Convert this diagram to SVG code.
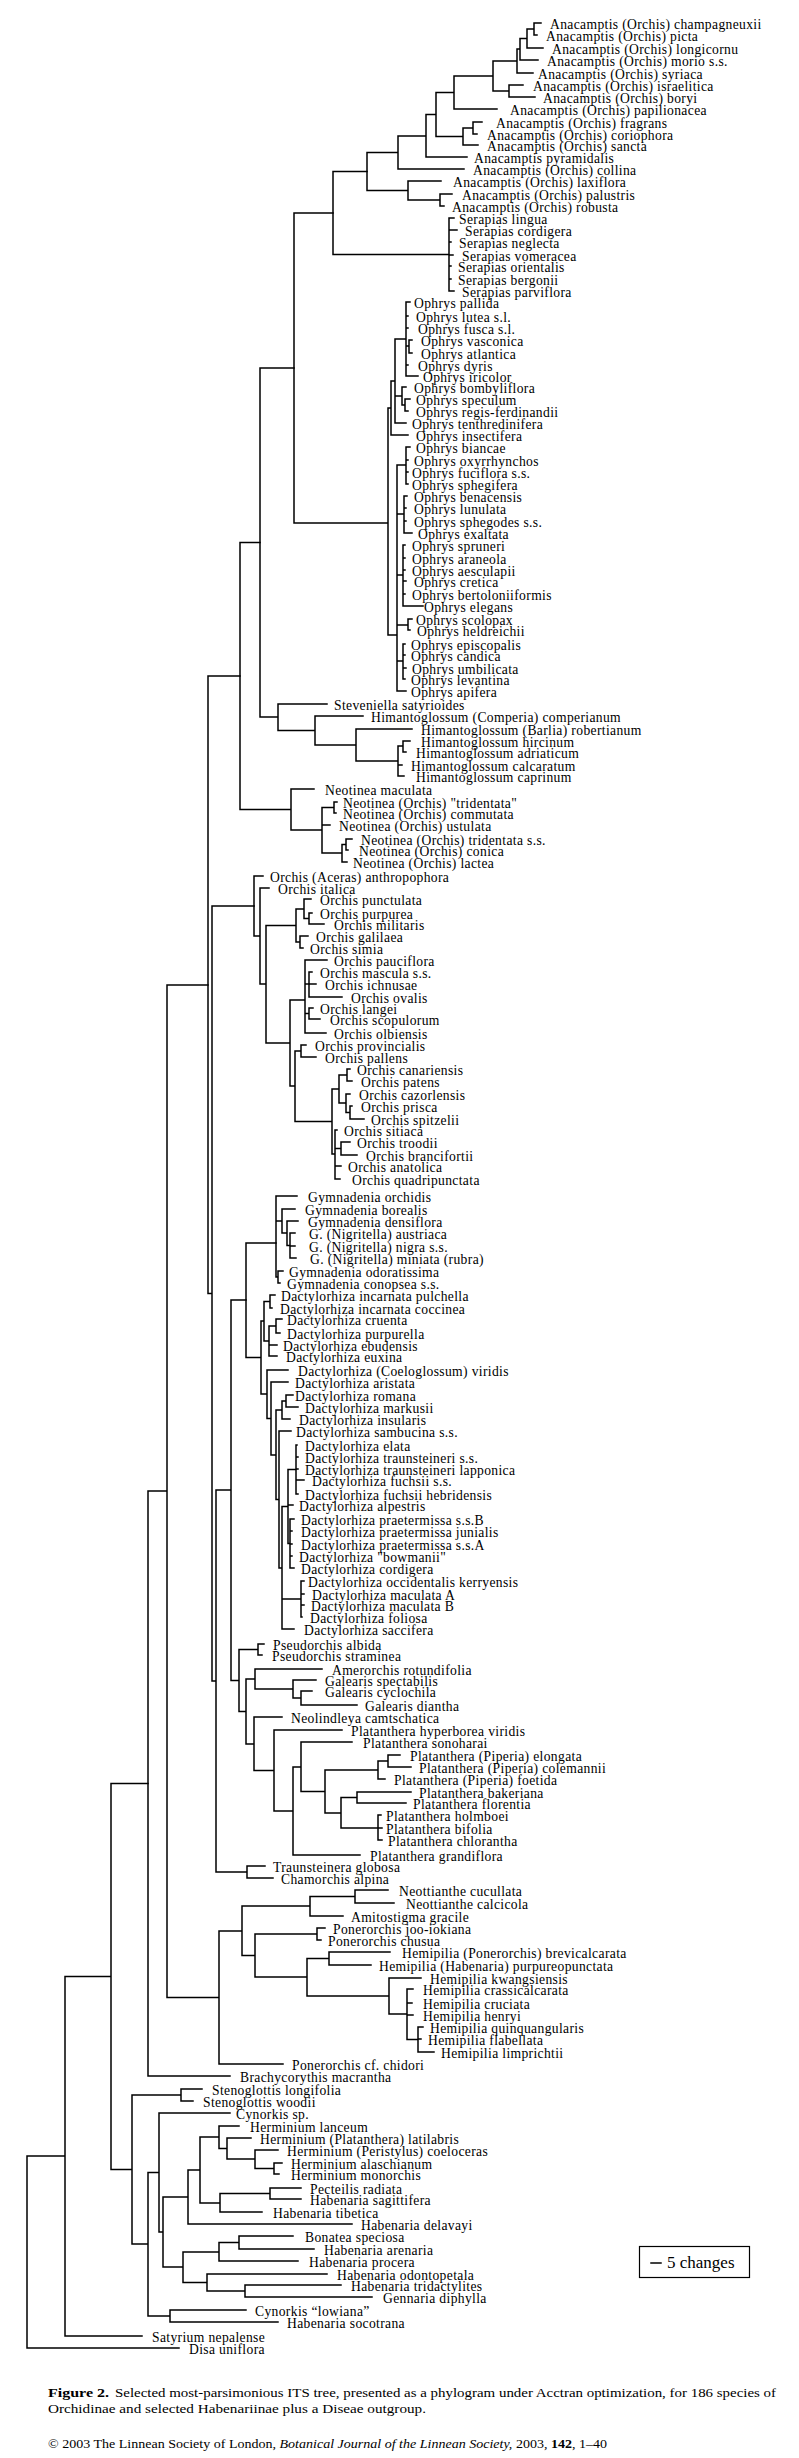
<svg xmlns="http://www.w3.org/2000/svg" width="799" height="2458" viewBox="0 0 799 2458">
<style>
.b{fill:none;stroke:#000;stroke-width:1.5;stroke-linecap:square}
.t{font-family:"Liberation Serif","Times New Roman",serif;font-size:13.6px;letter-spacing:0.35px;fill:#000}
.c{font-family:"Liberation Serif","Times New Roman",serif;font-size:13.5px;fill:#000}
</style>
<rect width="799" height="2458" fill="#fff"/>
<g id="connectors">
<path class="b" d="M534 23H541M534 35H537M534 23V35M527 29H534M527 48H543M527 29V48M520 38.5H527M520 60H538M520 38.5V60M517 49H520M517 73H533M517 49V73M509 85H523M509 97H535M509 85V97M493 61H517M493 91H509M493 61V91M454 76H493M454 109H497M454 76V109M473 122H482M473 134H477M473 122V134M463 128H473M463 145H478M463 128V145M436 92.5H454M436 136.5H463M436 92.5V136.5M426 114.5H436M426 157H467M426 114.5V157M398 136H426M398 169H464M398 136V169M440 194H452M440 206H444M440 194V206M408 181H441M408 200H440M408 181V200M367 152.5H398M367 190.5H408M367 152.5V190.5"/>
<path class="b" d="M449 218V291M449 218H454M449 230H457M449 242H451M449 255H453M449 266H451M449 279H451M449 291H454M333 171.5H367M333 254.5H449M333 171.5V254.5"/>
<path class="b" d="M406 302V376M406 302H410M406 316H408M406 328H408M406 346H409M409 340V353M409 340H412M409 353H412M406 365H408M406 376H418M402 387V405M402 387H406M402 405H405M405 399V411M405 399H410M405 411H408M395 339V423M395 339H406M395 396H402M395 423H406M391 381V435M391 381H395M391 435H408M406 447V484M406 447H410M406 460H408M406 472H408M406 484H408M397 465H406M404 496V533M404 496H407M404 508H406M404 521H406M404 533H412M397 514H404M403 545V606M403 545H405M403 558H405M403 570H405M403 581H406M403 594H405M403 606H423M397 575H403M408 619V630M408 619H412M408 630H410M397 625H408M403 644V679M403 644H405M403 655H405M403 668H406M403 679H405M397 661H403M397 691H406M397 465V691M388 408V635M388 408H391M388 635H397M294 213H333M294 523H388M294 213V523"/>
<path class="b" d="M403 741V752M403 741H410M403 752H406M398 746V776M398 746H403M398 765H402M398 776H404M356 729V761M356 729H412M356 761H398M315 716V745M315 716H363M315 745H356M278 704V730.5M278 704H327M278 730.5H315M260 368V717M260 717H278M260 368H294"/>
<path class="b" d="M334 802V813M334 802H337M334 813H336M346 839V850M346 839H352M346 850H348M342 844.5V862M342 844.5H346M342 862H347M322 807.5V853M322 807.5H334M322 825H330M322 853H342M291 789V830M291 789H314M291 830H322M240 542.5V809.5M240 542.5H260M240 809.5H291"/>
<path class="b" d="M309 913V924M309 913H312M309 924H324M304 899V918.5M304 899H311M304 918.5H309M300 936V948M300 936H308M300 948H303M296 909V942M296 909H304M296 942H300M309 972V997M309 972H312M309 984H316M309 997H342M309 1008V1019M309 1008H313M309 1019H320M305 960V1033M305 960H327M305 984H309M305 1013.5H309M305 1033H326M301 1045V1057M301 1045H306M301 1057H316M347 1069V1081M347 1069H350M347 1081H352M350 1106V1119M350 1106H352M350 1119H364M346 1094V1112.5M346 1094H350M346 1112.5H350M339 1075V1103M339 1075H347M339 1103H346M341 1142V1155M341 1142H350M341 1155H357M335 1130V1179M335 1130H337M335 1148.5H341M335 1166H341M335 1179H340M332 1089V1154M332 1089H339M332 1154H335M295 1051V1121.5M295 1051H301M295 1121.5H332M290 1000V1086M290 1000H305M290 1086H295M266 925.5V1043M266 925.5H296M266 1043H290M260 888V984M260 888H269M260 984H266M254 876V936M254 876H263M254 936H260"/>
<path class="b" d="M290 1233V1258M290 1233H295M290 1246H295M290 1258H296M287 1221V1245.5M287 1221H298M287 1245.5H290M282 1209V1233M282 1209H295M282 1233H287M278 1271V1283M278 1271H283M278 1283H280M276 1196V1277M276 1196H297M276 1221H282M276 1277H278"/>
<path class="b" d="M270 1295V1308M270 1295H275M270 1308H272M276 1319V1333M276 1319H282M276 1333H280M269 1326V1356M269 1326H276M269 1345H277M269 1356H277M264 1301.5V1341M264 1301.5H270M264 1341H269M286 1395V1407M286 1395H293M286 1407H298M282 1401V1419M282 1401H286M282 1419H290M296 1445V1494M296 1445H297M296 1457H298M296 1469H298M296 1480H304M296 1494H298M290 1519V1568M290 1519H294M290 1531H292M290 1544H292M290 1556H292M290 1568H294M288 1469.5V1543.5M288 1469.5H296M288 1505H293M288 1543.5H290M301 1581V1617M301 1581H304M301 1594H304M301 1605H304M301 1617H302M282 1506.5V1629M282 1506.5H288M282 1599H301M282 1629H294M279 1431V1568M279 1431H291M279 1568H282M276 1410V1499.5M276 1410H282M276 1499.5H279M271 1382V1455M271 1382H288M271 1455H276M267 1370V1418.5M267 1370H288M267 1418.5H271M261 1321V1394M261 1321H264M261 1394H267M246 1243V1357.5M246 1243H276M246 1357.5H261"/>
<path class="b" d="M258 1644V1655M258 1644H264M258 1655H262M301 1691V1705M301 1691H312M301 1705H357M293 1680V1698M293 1680H316M293 1698H301M255 1669V1689M255 1669H322M255 1689H293M388 1755V1767M388 1755H400M388 1767H411M378 1761V1779M378 1761H388M378 1779H385M357 1792V1803M357 1792H411M357 1803H406M378 1815V1840M378 1815H381M378 1828H382M378 1840H382M341 1797.5V1828M341 1797.5H357M341 1828H378M325 1770V1813M325 1770H378M325 1813H341M301 1742V1791.5M301 1742H352M301 1791.5H325M293 1767V1855M293 1767H301M293 1855H360M274 1730V1811M274 1730H342M274 1811H293M254 1717V1770.5M254 1717H282M254 1770.5H274M246 1679V1744M246 1679H255M246 1744H254M239 1649.5V1711.5M239 1649.5H258M239 1711.5H246M231 1300V1680.5M231 1300H246M231 1680.5H239M247 1866V1878M247 1866H265M247 1878H273M216 1490V1872M216 1490H231M216 1872H247M212 906V1681M212 906H254M212 1681H216M208 676V1293.5M208 676H240M208 1293.5H212"/>
<path class="b" d="M355 1890V1903M355 1890H388M355 1903H394M310 1896.5V1916M310 1896.5H355M310 1916H343M317 1928V1940M317 1928H325M317 1940H321M329 1952V1965M329 1952H390M329 1965H371M418 2027V2052M418 2027H423M418 2039H421M418 2052H434M407 1989V2039.5M407 1989H413M407 2003H412M407 2015H413M407 2039.5H418M389 1978V2014M389 1978H421M389 2014H407M307 1958.5V1996M307 1958.5H329M307 1996H389M255 1934V1977M255 1934H317M255 1977H307M242 1906V1955.5M242 1906H310M242 1955.5H255M219 1931V2064M219 1931H242M219 2064H283M167 985V1997.5M167 985H208M167 1997.5H219M148 1491V2076M148 1491H167M148 2076H230"/>
<path class="b" d="M181 2089V2101M181 2089H202M181 2101H193M274 2163V2174M274 2163H282M274 2174H279M255 2150V2168.5M255 2150H278M255 2168.5H274M227 2138V2159M227 2138H251M227 2159H255M219 2126V2148.5M219 2126H239M219 2148.5H227M270 2188V2199M270 2188H301M270 2199H301M220 2193.5V2212M220 2193.5H270M220 2212H262M200 2137V2203M200 2137H219M200 2203H220M188 2170V2224M188 2170H200M188 2224H352M239 2236V2249M239 2236H293M239 2249H314M219 2242.5V2261M219 2242.5H239M219 2261H298M245 2285V2297M245 2285H341M245 2297H372M207 2274V2291M207 2274H327M207 2291H245M183 2252V2282.5M183 2252H219M183 2282.5H207M163 2197V2267M163 2197H188M163 2267H183M159 2113V2232M159 2113H230M159 2232H163M170 2310V2322M170 2310H246M170 2322H278M148 2172.5V2316M148 2172.5H159M148 2316H170M132 2095V2244M132 2095H181M132 2244H148M111 1783.5V2169.5M111 1783.5H148M111 2169.5H132M65 1976.5V2336M65 1976.5H111M65 2336H142M27 2156V2348M27 2156H65M27 2348H179"/>
</g>
<g id="taxa" class="t">
<g id="t001"><text x="550" y="29">Anacamptis (Orchis) champagneuxii</text></g>
<g id="t002"><text x="546" y="41">Anacamptis (Orchis) picta</text></g>
<g id="t003"><text x="552" y="54">Anacamptis (Orchis) longicornu</text></g>
<g id="t004"><text x="547" y="66">Anacamptis (Orchis) morio s.s.</text></g>
<g id="t005"><text x="538" y="79">Anacamptis (Orchis) syriaca</text></g>
<g id="t006"><text x="533" y="91">Anacamptis (Orchis) israelitica</text></g>
<g id="t007"><text x="543" y="103">Anacamptis (Orchis) boryi</text></g>
<g id="t008"><text x="510" y="115">Anacamptis (Orchis) papilionacea</text></g>
<g id="t009"><text x="496" y="128">Anacamptis (Orchis) fragrans</text></g>
<g id="t010"><text x="487" y="140">Anacamptis (Orchis) coriophora</text></g>
<g id="t011"><text x="487" y="151">Anacamptis (Orchis) sancta</text></g>
<g id="t012"><text x="474" y="163">Anacamptis pyramidalis</text></g>
<g id="t013"><text x="473" y="175">Anacamptis (Orchis) collina</text></g>
<g id="t014"><text x="453" y="187">Anacamptis (Orchis) laxiflora</text></g>
<g id="t015"><text x="462" y="200">Anacamptis (Orchis) palustris</text></g>
<g id="t016"><text x="452" y="212">Anacamptis (Orchis) robusta</text></g>
<g id="t017"><text x="459" y="224">Serapias lingua</text></g>
<g id="t018"><text x="465" y="236">Serapias cordigera</text></g>
<g id="t019"><text x="459" y="248">Serapias neglecta</text></g>
<g id="t020"><text x="462" y="261">Serapias vomeracea</text></g>
<g id="t021"><text x="458" y="272">Serapias orientalis</text></g>
<g id="t022"><text x="458" y="285">Serapias bergonii</text></g>
<g id="t023"><text x="462" y="297">Serapias parviflora</text></g>
<g id="t024"><text x="414" y="308">Ophrys pallida</text></g>
<g id="t025"><text x="416" y="322">Ophrys lutea s.l.</text></g>
<g id="t026"><text x="418" y="334">Ophrys fusca s.l.</text></g>
<g id="t027"><text x="421" y="346">Ophrys vasconica</text></g>
<g id="t028"><text x="421" y="359">Ophrys atlantica</text></g>
<g id="t029"><text x="418" y="371">Ophrys dyris</text></g>
<g id="t030"><text x="423" y="382">Ophrys iricolor</text></g>
<g id="t031"><text x="414" y="393">Ophrys bombyliflora</text></g>
<g id="t032"><text x="416" y="405">Ophrys speculum</text></g>
<g id="t033"><text x="416" y="417">Ophrys regis-ferdinandii</text></g>
<g id="t034"><text x="412" y="429">Ophrys tenthredinifera</text></g>
<g id="t035"><text x="416" y="441">Ophrys insectifera</text></g>
<g id="t036"><text x="416" y="453">Ophrys biancae</text></g>
<g id="t037"><text x="414" y="466">Ophrys oxyrrhynchos</text></g>
<g id="t038"><text x="412" y="478">Ophrys fuciflora s.s.</text></g>
<g id="t039"><text x="412" y="490">Ophrys sphegifera</text></g>
<g id="t040"><text x="414" y="502">Ophrys benacensis</text></g>
<g id="t041"><text x="414" y="514">Ophrys lunulata</text></g>
<g id="t042"><text x="414" y="527">Ophrys sphegodes s.s.</text></g>
<g id="t043"><text x="418" y="539">Ophrys exaltata</text></g>
<g id="t044"><text x="412" y="551">Ophrys spruneri</text></g>
<g id="t045"><text x="412" y="564">Ophrys araneola</text></g>
<g id="t046"><text x="412" y="576">Ophrys aesculapii</text></g>
<g id="t047"><text x="414" y="587">Ophrys cretica</text></g>
<g id="t048"><text x="412" y="600">Ophrys bertoloniiformis</text></g>
<g id="t049"><text x="424" y="612">Ophrys elegans</text></g>
<g id="t050"><text x="416" y="625">Ophrys scolopax</text></g>
<g id="t051"><text x="417" y="636">Ophrys heldreichii</text></g>
<g id="t052"><text x="411" y="650">Ophrys episcopalis</text></g>
<g id="t053"><text x="411" y="661">Ophrys candica</text></g>
<g id="t054"><text x="412" y="674">Ophrys umbilicata</text></g>
<g id="t055"><text x="411" y="685">Ophrys levantina</text></g>
<g id="t056"><text x="411" y="697">Ophrys apifera</text></g>
<g id="t057"><text x="334" y="710">Steveniella satyrioides</text></g>
<g id="t058"><text x="371" y="722">Himantoglossum (Comperia) comperianum</text></g>
<g id="t059"><text x="421" y="735">Himantoglossum (Barlia) robertianum</text></g>
<g id="t060"><text x="421" y="747">Himantoglossum hircinum</text></g>
<g id="t061"><text x="416" y="758">Himantoglossum adriaticum</text></g>
<g id="t062"><text x="411" y="771">Himantoglossum calcaratum</text></g>
<g id="t063"><text x="416" y="782">Himantoglossum caprinum</text></g>
<g id="t064"><text x="325" y="795">Neotinea maculata</text></g>
<g id="t065"><text x="343" y="808">Neotinea (Orchis) "tridentata"</text></g>
<g id="t066"><text x="343" y="819">Neotinea (Orchis) commutata</text></g>
<g id="t067"><text x="339" y="831">Neotinea (Orchis) ustulata</text></g>
<g id="t068"><text x="361" y="845">Neotinea (Orchis) tridentata s.s.</text></g>
<g id="t069"><text x="359" y="856">Neotinea (Orchis) conica</text></g>
<g id="t070"><text x="353" y="868">Neotinea (Orchis) lactea</text></g>
<g id="t071"><text x="270" y="882">Orchis (Aceras) anthropophora</text></g>
<g id="t072"><text x="278" y="894">Orchis italica</text></g>
<g id="t073"><text x="320" y="905">Orchis punctulata</text></g>
<g id="t074"><text x="320" y="919">Orchis purpurea</text></g>
<g id="t075"><text x="334" y="930">Orchis militaris</text></g>
<g id="t076"><text x="316" y="942">Orchis galilaea</text></g>
<g id="t077"><text x="310" y="954">Orchis simia</text></g>
<g id="t078"><text x="334" y="966">Orchis pauciflora</text></g>
<g id="t079"><text x="320" y="978">Orchis mascula s.s.</text></g>
<g id="t080"><text x="325" y="990">Orchis ichnusae</text></g>
<g id="t081"><text x="351" y="1003">Orchis ovalis</text></g>
<g id="t082"><text x="320" y="1014">Orchis langei</text></g>
<g id="t083"><text x="330" y="1025">Orchis scopulorum</text></g>
<g id="t084"><text x="334" y="1039">Orchis olbiensis</text></g>
<g id="t085"><text x="315" y="1051">Orchis provincialis</text></g>
<g id="t086"><text x="325" y="1063">Orchis pallens</text></g>
<g id="t087"><text x="357" y="1075">Orchis canariensis</text></g>
<g id="t088"><text x="361" y="1087">Orchis patens</text></g>
<g id="t089"><text x="359" y="1100">Orchis cazorlensis</text></g>
<g id="t090"><text x="361" y="1112">Orchis prisca</text></g>
<g id="t091"><text x="371" y="1125">Orchis spitzelii</text></g>
<g id="t092"><text x="344" y="1136">Orchis sitiaca</text></g>
<g id="t093"><text x="357" y="1148">Orchis troodii</text></g>
<g id="t094"><text x="366" y="1161">Orchis brancifortii</text></g>
<g id="t095"><text x="348" y="1172">Orchis anatolica</text></g>
<g id="t096"><text x="352" y="1185">Orchis quadripunctata</text></g>
<g id="t097"><text x="308" y="1202">Gymnadenia orchidis</text></g>
<g id="t098"><text x="305" y="1215">Gymnadenia borealis</text></g>
<g id="t099"><text x="308" y="1227">Gymnadenia densiflora</text></g>
<g id="t100"><text x="309" y="1239">G. (Nigritella) austriaca</text></g>
<g id="t101"><text x="309" y="1252">G. (Nigritella) nigra s.s.</text></g>
<g id="t102"><text x="310" y="1264">G. (Nigritella) miniata (rubra)</text></g>
<g id="t103"><text x="289" y="1277">Gymnadenia odoratissima</text></g>
<g id="t104"><text x="287" y="1289">Gymnadenia conopsea s.s.</text></g>
<g id="t105"><text x="281" y="1301">Dactylorhiza incarnata pulchella</text></g>
<g id="t106"><text x="280" y="1314">Dactylorhiza incarnata coccinea</text></g>
<g id="t107"><text x="287" y="1325">Dactylorhiza cruenta</text></g>
<g id="t108"><text x="287" y="1339">Dactylorhiza purpurella</text></g>
<g id="t109"><text x="283" y="1351">Dactylorhiza ebudensis</text></g>
<g id="t110"><text x="286" y="1362">Dactylorhiza euxina</text></g>
<g id="t111"><text x="298" y="1376">Dactylorhiza (Coeloglossum) viridis</text></g>
<g id="t112"><text x="295" y="1388">Dactylorhiza aristata</text></g>
<g id="t113"><text x="295" y="1401">Dactylorhiza romana</text></g>
<g id="t114"><text x="305" y="1413">Dactylorhiza markusii</text></g>
<g id="t115"><text x="299" y="1425">Dactylorhiza insularis</text></g>
<g id="t116"><text x="296" y="1437">Dactylorhiza sambucina s.s.</text></g>
<g id="t117"><text x="305" y="1451">Dactylorhiza elata</text></g>
<g id="t118"><text x="305" y="1463">Dactylorhiza traunsteineri s.s.</text></g>
<g id="t119"><text x="305" y="1475">Dactylorhiza traunsteineri lapponica</text></g>
<g id="t120"><text x="312" y="1486">Dactylorhiza fuchsii s.s.</text></g>
<g id="t121"><text x="305" y="1500">Dactylorhiza fuchsii hebridensis</text></g>
<g id="t122"><text x="299" y="1511">Dactylorhiza alpestris</text></g>
<g id="t123"><text x="301" y="1525">Dactylorhiza praetermissa s.s.B</text></g>
<g id="t124"><text x="301" y="1537">Dactylorhiza praetermissa junialis</text></g>
<g id="t125"><text x="301" y="1550">Dactylorhiza praetermissa s.s.A</text></g>
<g id="t126"><text x="299" y="1562">Dactylorhiza "bowmanii"</text></g>
<g id="t127"><text x="301" y="1574">Dactylorhiza cordigera</text></g>
<g id="t128"><text x="308" y="1587">Dactylorhiza occidentalis kerryensis</text></g>
<g id="t129"><text x="312" y="1600">Dactylorhiza maculata A</text></g>
<g id="t130"><text x="311" y="1611">Dactylorhiza maculata B</text></g>
<g id="t131"><text x="310" y="1623">Dactylorhiza foliosa</text></g>
<g id="t132"><text x="304" y="1635">Dactylorhiza saccifera</text></g>
<g id="t133"><text x="273" y="1650">Pseudorchis albida</text></g>
<g id="t134"><text x="272" y="1661">Pseudorchis straminea</text></g>
<g id="t135"><text x="332" y="1675">Amerorchis rotundifolia</text></g>
<g id="t136"><text x="325" y="1686">Galearis spectabilis</text></g>
<g id="t137"><text x="325" y="1697">Galearis cyclochila</text></g>
<g id="t138"><text x="365" y="1711">Galearis diantha</text></g>
<g id="t139"><text x="291" y="1723">Neolindleya camtschatica</text></g>
<g id="t140"><text x="351" y="1736">Platanthera hyperborea viridis</text></g>
<g id="t141"><text x="363" y="1748">Platanthera sonoharai</text></g>
<g id="t142"><text x="410" y="1761">Platanthera (Piperia) elongata</text></g>
<g id="t143"><text x="419" y="1773">Platanthera (Piperia) colemannii</text></g>
<g id="t144"><text x="394" y="1785">Platanthera (Piperia) foetida</text></g>
<g id="t145"><text x="419" y="1798">Platanthera bakeriana</text></g>
<g id="t146"><text x="413" y="1809">Platanthera florentia</text></g>
<g id="t147"><text x="386" y="1821">Platanthera holmboei</text></g>
<g id="t148"><text x="386" y="1834">Platanthera bifolia</text></g>
<g id="t149"><text x="388" y="1846">Platanthera chlorantha</text></g>
<g id="t150"><text x="370" y="1861">Platanthera grandiflora</text></g>
<g id="t151"><text x="273" y="1872">Traunsteinera globosa</text></g>
<g id="t152"><text x="281" y="1884">Chamorchis alpina</text></g>
<g id="t153"><text x="399" y="1896">Neottianthe cucullata</text></g>
<g id="t154"><text x="406" y="1909">Neottianthe calcicola</text></g>
<g id="t155"><text x="351" y="1922">Amitostigma gracile</text></g>
<g id="t156"><text x="333" y="1934">Ponerorchis joo-iokiana</text></g>
<g id="t157"><text x="328" y="1946">Ponerorchis chusua</text></g>
<g id="t158"><text x="402" y="1958">Hemipilia (Ponerorchis) brevicalcarata</text></g>
<g id="t159"><text x="379" y="1971">Hemipilia (Habenaria) purpureopunctata</text></g>
<g id="t160"><text x="430" y="1984">Hemipilia kwangsiensis</text></g>
<g id="t161"><text x="423" y="1995">Hemipilia crassicalcarata</text></g>
<g id="t162"><text x="423" y="2009">Hemipilia cruciata</text></g>
<g id="t163"><text x="423" y="2021">Hemipilia henryi</text></g>
<g id="t164"><text x="430" y="2033">Hemipilia quinquangularis</text></g>
<g id="t165"><text x="428" y="2045">Hemipilia flabellata</text></g>
<g id="t166"><text x="441" y="2058">Hemipilia limprichtii</text></g>
<g id="t167"><text x="292" y="2070">Ponerorchis cf. chidori</text></g>
<g id="t168"><text x="240" y="2082">Brachycorythis macrantha</text></g>
<g id="t169"><text x="212" y="2095">Stenoglottis longifolia</text></g>
<g id="t170"><text x="203" y="2107">Stenoglottis woodii</text></g>
<g id="t171"><text x="236" y="2119">Cynorkis sp.</text></g>
<g id="t172"><text x="250" y="2132">Herminium lanceum</text></g>
<g id="t173"><text x="260" y="2144">Herminium (Platanthera) latilabris</text></g>
<g id="t174"><text x="287" y="2156">Herminium (Peristylus) coeloceras</text></g>
<g id="t175"><text x="291" y="2169">Herminium alaschianum</text></g>
<g id="t176"><text x="291" y="2180">Herminium monorchis</text></g>
<g id="t177"><text x="310" y="2194">Pecteilis radiata</text></g>
<g id="t178"><text x="310" y="2205">Habenaria sagittifera</text></g>
<g id="t179"><text x="273" y="2218">Habenaria tibetica</text></g>
<g id="t180"><text x="361" y="2230">Habenaria delavayi</text></g>
<g id="t181"><text x="305" y="2242">Bonatea speciosa</text></g>
<g id="t182"><text x="324" y="2255">Habenaria arenaria</text></g>
<g id="t183"><text x="309" y="2267">Habenaria procera</text></g>
<g id="t184"><text x="337" y="2280">Habenaria odontopetala</text></g>
<g id="t185"><text x="351" y="2291">Habenaria tridactylites</text></g>
<g id="t186"><text x="383" y="2303">Gennaria diphylla</text></g>
<g id="t187"><text x="255" y="2316">Cynorkis “lowiana”</text></g>
<g id="t188"><text x="287" y="2328">Habenaria socotrana</text></g>
<g id="t189"><text x="152" y="2342">Satyrium nepalense</text></g>
<g id="t190"><text x="189" y="2354">Disa uniflora</text></g>
</g>
<g id="scale">
<rect x="639.5" y="2246.5" width="110" height="31" fill="none" stroke="#000" stroke-width="1.2"/>
<path class="b" d="M651 2263H661"/>
<text x="667" y="2268" font-family="Liberation Serif, serif" font-size="17">5 changes</text>
</g>
<g id="caption" class="c">
<text x="48" y="2397" font-weight="bold" textLength="61" lengthAdjust="spacingAndGlyphs">Figure 2.</text>
<text x="115" y="2397" textLength="661" lengthAdjust="spacingAndGlyphs">Selected most-parsimonious ITS tree, presented as a phylogram under Acctran optimization, for 186 species of</text>
<text x="48" y="2413" textLength="378" lengthAdjust="spacingAndGlyphs">Orchidinae and selected Habenariinae plus a Diseae outgroup.</text>
<text x="48" y="2448" font-size="13" textLength="559" lengthAdjust="spacingAndGlyphs">© 2003 The Linnean Society of London, <tspan font-style="italic">Botanical Journal of the Linnean Society,</tspan> 2003, <tspan font-weight="bold">142</tspan>, 1–40</text>
</g>
</svg>
